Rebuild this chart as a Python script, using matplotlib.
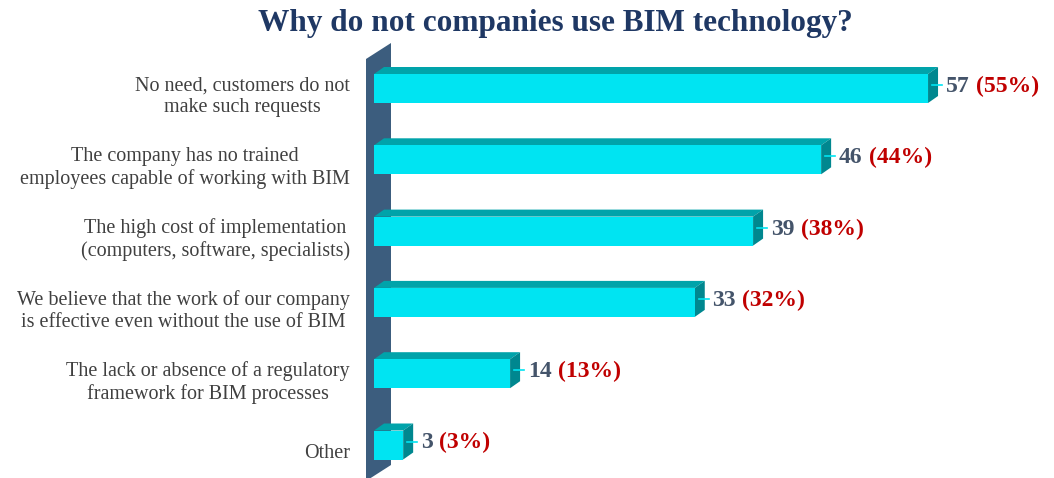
import numpy as np
import matplotlib
matplotlib.use('Agg')
import matplotlib.pyplot as plt
from matplotlib.patches import Polygon, Rectangle

# data
categories = ['No need, customers do not\nmake such requests',
              'The company has no trained\nemployees capable of working with BIM',
              'The high cost of implementation\n(computers, software, specialists)',
              'We believe that the work of our company\nis effective even without the use of BIM',
              'The lack or absence of a regulatory\nframework for BIM processes',
              'Other']
counts = [57, 46, 39, 33, 14, 3]
percents = [55, 44, 38, 32, 13, 3]

plt.rcParams['font.family'] = ['Liberation Serif', 'DejaVu Serif']

W, H = 1054, 478
fig = plt.figure(figsize=(W / 100, H / 100), dpi=100)
ax = fig.add_axes([0, 0, 1, 1])
ax.axis('off')

# scale: value 0 at pixel 374, 9.72 px per respondent; rows 71.3 px apart
x0, ppu = 374, 9.72
y0, row = 88.5, 71.3
ax.set_xlim(-x0 / ppu, (W - x0) / ppu)
ax.set_ylim((H - y0) / row, -y0 / row)

front = '#00E4F2'
top = '#00A3AA'
side = '#00878F'
wall = '#3C5D7E'

h = 29 / row       # bar thickness
dx = 10 / ppu      # depth offsets
dy = 7 / row

# left wall
wl, wr = -8 / ppu, 17 / ppu
ax.add_patch(Polygon([(wl, -29.5 / row), (wr, -45.5 / row), (wr, 376.5 / row), (wl, 392.5 / row)],
                     closed=True, facecolor=wall, edgecolor='none', zorder=1))

for i, (cat, v, p) in enumerate(zip(categories, counts, percents)):
    c = i
    yt, yb = c - h / 2, c + h / 2
    ax.add_patch(Polygon([(0, yt), (v, yt), (v + dx, yt - dy), (dx, yt - dy)],
                         closed=True, facecolor=top, edgecolor='none', zorder=2))
    ax.add_patch(Polygon([(v, yt), (v + dx, yt - dy), (v + dx, yb - dy), (v, yb)],
                         closed=True, facecolor=side, edgecolor='none', zorder=2))
    ax.add_patch(Rectangle((0, yt), v, h, facecolor=front, edgecolor='none', zorder=3))
    # leader line
    ym = c - dy / 2
    ax.plot([v + dx * 0.4, v + dx + 0.4], [ym, ym], color=front, lw=1.2, zorder=4)
    t1 = ax.text(v + dx + 0.8, ym + 0.02, str(v), ha='left', va='center', fontsize=17,
                 fontweight='bold', color='#44546A', zorder=5)
    ax.annotate('(%d%%)' % p, xy=(1, 0.5), xycoords=t1, xytext=(4.5, 0),
                textcoords='offset points', ha='left', va='center', fontsize=17,
                fontweight='bold', color='#C00000')
    ax.text(-24 / ppu, c + 0.12, cat, ha='right', va='center', multialignment='center',
            fontsize=14.5, color='#404040', linespacing=1.2)

fig.text(555 / W, 1 - 24 / H, 'Why do not companies use BIM technology?', ha='center', va='center',
         fontsize=22.5, fontweight='bold', color='#1F3864')

fig.savefig('out.png', dpi=100)
